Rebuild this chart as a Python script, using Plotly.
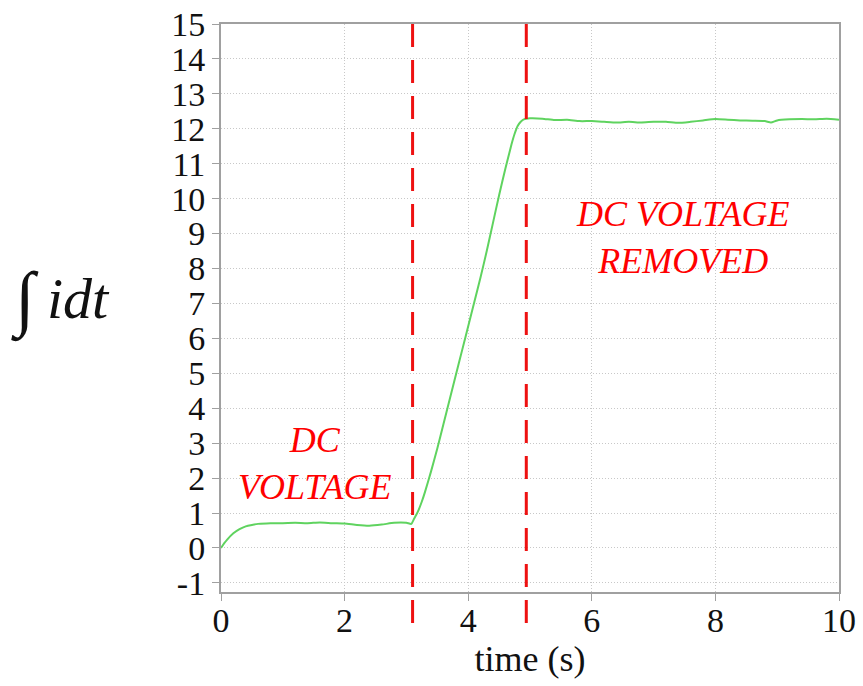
import plotly.graph_objects as go

t = [0, 0.05, 0.1, 0.2, 0.3, 0.4, 0.5, 0.6, 0.8, 1.0, 1.2, 1.4, 1.6, 1.8, 2.0, 2.2, 2.4, 2.6, 2.8, 3.0,
     3.08, 3.12, 3.16, 3.2, 3.25, 3.3, 3.4, 3.5, 3.6, 3.7, 3.8, 3.9, 4.0, 4.1, 4.2, 4.3, 4.4, 4.5, 4.6, 4.65, 4.7, 4.75, 4.8, 4.85, 4.9,
     5.0, 5.2, 5.4, 5.6, 5.8, 6.0, 6.2, 6.4, 6.6, 6.8, 7.0, 7.2, 7.4, 7.6, 7.8, 8.0, 8.2, 8.4, 8.6, 8.8,
     8.9, 9.0, 9.2, 9.4, 9.6, 9.8, 10.0]
v = [0, 0.13, 0.24, 0.42, 0.54, 0.62, 0.66, 0.69, 0.71, 0.71, 0.72, 0.71, 0.73, 0.71, 0.70, 0.66, 0.64, 0.67, 0.72, 0.72,
     0.69, 0.82, 0.95, 1.1, 1.33, 1.6, 2.2, 2.85, 3.55, 4.25, 4.95, 5.65, 6.35, 7.05, 7.75, 8.5, 9.3, 10.1, 10.85, 11.2, 11.55, 11.85, 12.08, 12.2, 12.27,
     12.3, 12.29, 12.25, 12.26, 12.22, 12.22, 12.2, 12.18, 12.2, 12.18, 12.2, 12.2, 12.17, 12.2, 12.24, 12.28, 12.26, 12.24, 12.23, 12.22,
     12.18, 12.24, 12.27, 12.28, 12.27, 12.29, 12.26]

event_times = [3.1, 4.94]
x_ticks = [0, 2, 4, 6, 8, 10]
y_ticks = list(range(-1, 16))

serif = "Liberation Serif, Times New Roman, serif"

fig = go.Figure()
fig.add_trace(go.Scatter(x=t, y=v, mode="lines", line=dict(color="#5fd35f", width=2, shape="spline", smoothing=0.5),
                         showlegend=False))

for et in event_times:
    fig.add_shape(type="line", xref="x", yref="paper", x0=et, x1=et, y0=1, y1=-0.07,
                  line=dict(color="#ee1111", width=3, dash="23px,13px"), layer="above")

axis_common = dict(showline=True, linecolor="#a0a0a0", linewidth=2, mirror=True,
                   showgrid=True, gridcolor="#c8c8c8", gridwidth=1, griddash="1px,2px",
                   ticks="outside", ticklen=7, tickcolor="#a0a0a0", tickwidth=1,
                   tickfont=dict(family=serif, size=34, color="#111111"), zeroline=False,
                   automargin=False)

fig.update_xaxes(range=[0, 10], tickvals=x_ticks, ticktext=[str(x) for x in x_ticks],
                 ticklabelstandoff=-10,
                 title=dict(text="time (s)", font=dict(family=serif, size=36, color="#111111"), standoff=4),
                 **axis_common)
fig.update_yaxes(range=[-1.26, 15], tickvals=y_ticks, ticktext=[str(y) for y in y_ticks], **axis_common)

annots = [
    dict(x=1.52, y=2.42, text="DC<br>VOLTAGE"),
    dict(x=7.48, y=8.88, text="DC VOLTAGE<br>REMOVED"),
]
for a in annots:
    fig.add_annotation(x=a["x"], y=a["y"], xref="x", yref="y",
                       text="<i>" + a["text"].replace("<br>", "</i><br><i>") + "</i>", showarrow=False,
                       font=dict(family=serif, size=36, color="#ff0000"), align="center")

L, R, T, B = 221, 24, 24, 94
W, H = 863, 686
pw, ph = W - L - R, H - T - B

def px2paper(px, py):
    return (px - L) / pw, 1 - (py - T) / ph

ix, iy = px2paper(25, 300)
fig.add_annotation(x=ix, y=iy, xref="paper", yref="paper", text="∫", showarrow=False,
                   xanchor="center", yanchor="middle",
                   font=dict(family=serif, size=72, color="#111111"))
dx, dy = px2paper(78, 298)
fig.add_annotation(x=dx, y=dy, xref="paper", yref="paper", text="<i>idt</i>", showarrow=False,
                   xanchor="center", yanchor="middle",
                   font=dict(family=serif, size=58, color="#111111"))

fig.update_layout(width=W, height=H, margin=dict(l=L, r=R, t=T, b=B, autoexpand=False),
                  plot_bgcolor="white", paper_bgcolor="white")

fig.write_html("out.html")
